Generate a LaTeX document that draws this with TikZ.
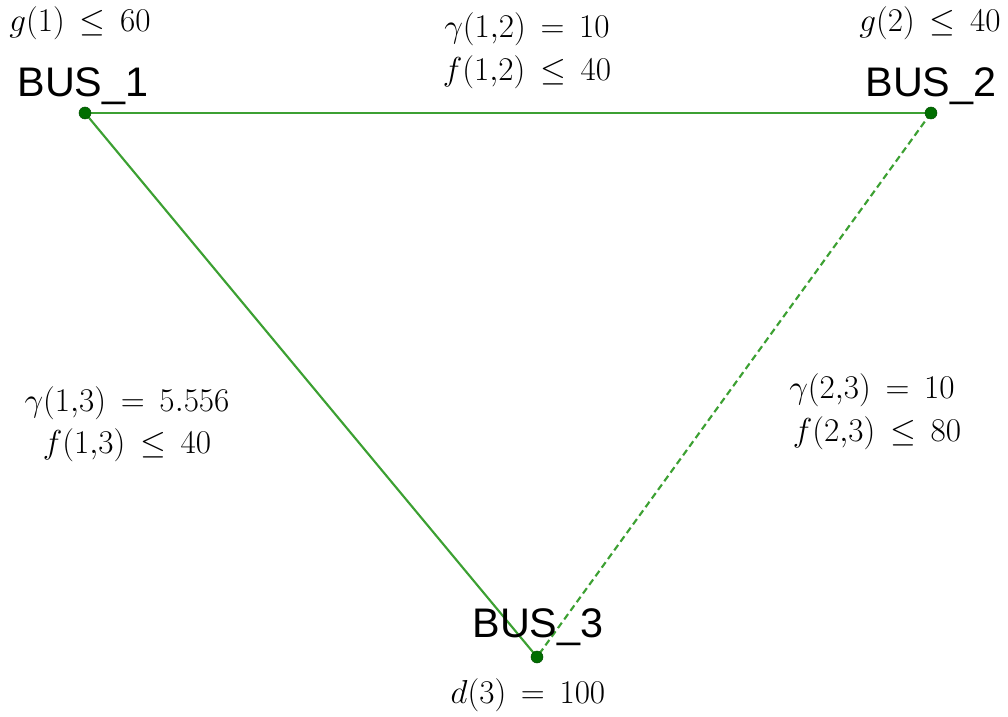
\documentclass[tikz,border=0pt]{standalone}
\usepackage{fontspec}
\newfontfamily\busfont{Liberation Sans}
\definecolor{linegreen}{RGB}{60,160,50}
\definecolor{dotgreen}{RGB}{0,110,0}
\tikzset{
  bus/.style={circle,fill=dotgreen,draw=dotgreen!70!black,inner sep=0pt,minimum size=9pt},
  buslabel/.style={anchor=base,font=\busfont\fontsize{31}{34}\selectfont,inner sep=0pt},
  lab/.style={anchor=base,font=\fontsize{25}{29}\selectfont,inner sep=0pt},
  edge/.style={draw=linegreen,line width=1.6pt},
  dashededge/.style={edge,dash pattern=on 5pt off 3pt}
}
\begin{document}
\begin{tikzpicture}[x=0.75pt,y=-0.75pt]
\useasboundingbox (0,0) rectangle (1008,717);
\coordinate (b1) at (85,113);
\coordinate (b2) at (931,113);
\coordinate (b3) at (537,657);
\draw[edge] (b1) -- (b2);
\draw[edge] (b1) -- (b3);
\draw[dashededge] (b2) -- (b3);
\node[bus] (n1) at (b1) {};
\node[bus] (n2) at (b2) {};
\node[bus] (n3) at (b3) {};
\node[buslabel] (l1) at (83,97) {BUS\_1};
\node[buslabel] (l2) at (931,97) {BUS\_2};
\node[buslabel] (l3) at (538,637) {BUS\_3};
\node[lab] (g1) at (80,32) {$g(1)\,\leq\, 60$};
\node[lab] (g2) at (930,32) {$g(2)\,\leq\, 40$};
\node[lab] (e12a) at (527,38) {$\gamma(1{,}2)\,=\,10$};
\node[lab] (e12b) at (527,81) {$f(1{,}2)\,\leq\,40$};
\node[lab] (e13a) at (127,411) {$\gamma(1{,}3)\,=\,5.556$};
\node[lab] (e13b) at (127,453) {$f(1{,}3)\,\leq\,40$};
\node[lab] (e23a) at (872,398) {$\gamma(2{,}3)\,=\,10$};
\node[lab] (e23b) at (877,441) {$f(2{,}3)\,\leq\,80$};
\node[lab] (d3) at (528,703) {$d(3)\,=\,100$};
\end{tikzpicture}
\end{document}
